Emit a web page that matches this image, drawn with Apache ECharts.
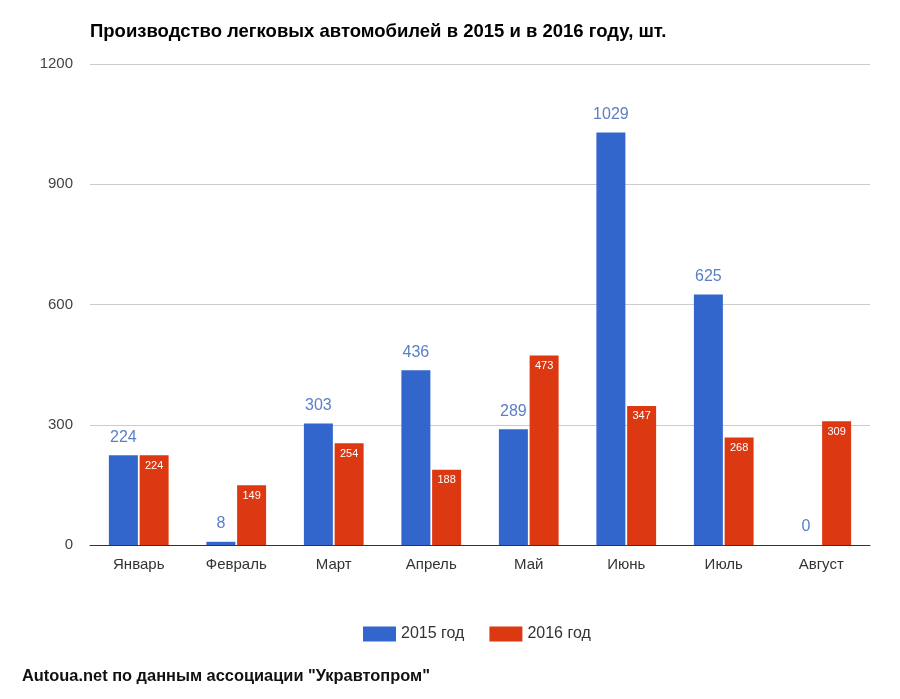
<!DOCTYPE html>
<html><head><meta charset="utf-8">
<script src="https://cdn.jsdelivr.net/npm/echarts@6/dist/echarts.min.js"></script>
<style>html,body{margin:0;padding:0;background:#fff}#c{width:900px;height:699px}</style>
</head><body><div id="c"></div>
<script>
const categories = ['Январь','Февраль','Март','Апрель','Май','Июнь','Июль','Август'];
const values2015 = [224, 8, 303, 436, 289, 1029, 625, 0];
const values2016 = [224, 149, 254, 188, 473, 347, 268, 309];
const yTicks = [0, 300, 600, 900, 1200];
const seriesNames = ['2015 год', '2016 год'];

const chart = echarts.init(document.getElementById('c'), null, {renderer:'canvas'});
const font = '"Liberation Sans", Arial, sans-serif';
chart.setOption({
  animation: false,
  backgroundColor: '#fff',
  title: {
    text: 'Производство легковых автомобилей в 2015 и в 2016 году, шт.',
    left: 85, top: 17,
    textStyle: {fontFamily: font, fontSize: 18.5, fontWeight: 'bold', color: '#000'}
  },
  graphic: [{
    type: 'text', left: 22, top: 668,
    style: {text: 'Autoua.net по данным ассоциации "Укравтопром"', font: 'bold 16.4px ' + font, fill: '#111'}
  }],
  legend: {
    top: 621, left: 358,
    itemWidth: 33, itemHeight: 15, itemGap: 25,
    icon: 'rect',
    textStyle: {fontFamily: font, fontSize: 16, color: '#333'},
    data: seriesNames
  },
  grid: {left: 90, right: 30, top: 64, bottom: 154, containLabel: false},
  xAxis: {
    type: 'category', data: categories,
    axisLine: {lineStyle: {color: '#333'}},
    axisTick: {show: false},
    axisLabel: {fontFamily: font, fontSize: 15, color: '#333', margin: 12}
  },
  yAxis: {
    type: 'value', min: yTicks[0], max: yTicks[yTicks.length-1], interval: 300,
    axisLine: {show: false}, axisTick: {show: false},
    splitLine: {lineStyle: {color: '#ccc'}},
    axisLabel: {fontFamily: font, fontSize: 15, color: '#444', margin: 17, formatter: v => String(v)}
  },
  series: [
    {
      name: seriesNames[0], type: 'bar', data: values2015,
      barWidth: 29, barGap: '6%',
      itemStyle: {color: '#3366cc'},
      label: {show: true, position: 'top', distance: 10, fontFamily: font, fontSize: 16, color: '#5a7fc6'}
    },
    {
      name: seriesNames[1], type: 'bar', data: values2016,
      barWidth: 29,
      itemStyle: {color: '#dc3912'},
      label: {show: true, position: 'insideTop', distance: 5, fontFamily: font, fontSize: 11, color: '#fff'}
    }
  ]
});
</script></body></html>
